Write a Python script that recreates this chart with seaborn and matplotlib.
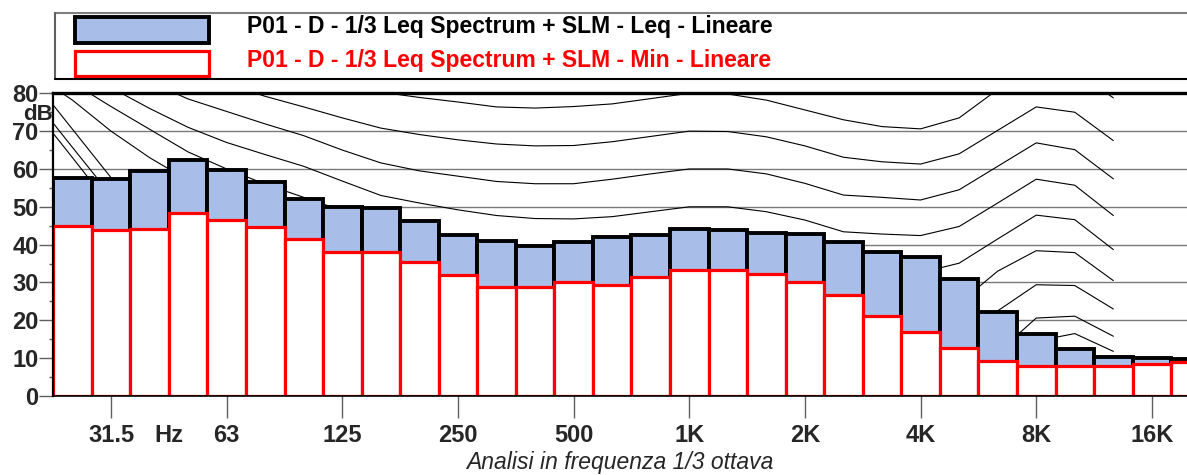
import numpy as np
import pandas as pd
import matplotlib
matplotlib.use("Agg")
import matplotlib.pyplot as plt
from matplotlib.patches import Rectangle
from matplotlib.lines import Line2D
import seaborn as sns

# ---------------- data ----------------
bands = ["25", "31.5", "40", "50", "63", "80", "100", "125", "160", "200",
         "250", "315", "400", "500", "630", "800", "1K", "1.25K", "1.6K", "2K",
         "2.5K", "3.15K", "4K", "5K", "6.3K", "8K", "10K", "12.5K", "16K", "20K"]
leq = [57.5, 57.3, 59.5, 62.4, 59.7, 56.6, 52.0, 49.9, 49.7, 46.2,
       42.5, 41.0, 39.7, 40.8, 41.9, 42.6, 44.2, 44.0, 43.2, 42.7,
       40.6, 38.0, 36.8, 30.8, 22.1, 16.4, 12.4, 10.4, 10.1, 9.8]
lmin = [44.8, 44.0, 44.2, 48.3, 46.4, 44.7, 41.6, 38.1, 38.0, 35.3,
        32.0, 28.9, 28.7, 30.0, 29.4, 31.4, 33.3, 33.2, 32.2, 30.2,
        26.7, 21.2, 16.8, 12.6, 9.2, 7.9, 7.8, 7.8, 8.4, 8.9]

tick_bands = ["31.5", "63", "125", "250", "500", "1K", "2K", "4K", "8K", "16K"]
y_ticks = [0, 10, 20, 30, 40, 50, 60, 70, 80]

# equal loudness contours (20 Hz .. 12.5 kHz)
contour_bands = ["20"] + bands[:28]
phon_80 = [115, 110, 105, 100, 96, 92, 88, 85, 82.5, 80.3, 78.9, 77.7, 76.4, 76.1, 76.5,
           77.2, 78.6, 80, 79.8, 78.2, 75.6, 73.0, 71.2, 70.6, 73.5, 81, 88, 86, 78.8]
phon_70 = [103, 98, 94, 90, 86, 82.5, 79.2, 76.4, 73.5, 70.8, 69.1, 67.7, 66.6, 66.1, 66.2,
           67.2, 68.6, 70, 69.9, 68.5, 66.1, 63.1, 61.9, 61.3, 64.0, 70.2, 76.4, 75.0, 67.5]
phon_60 = [96, 91, 87, 83, 78.5, 75.2, 71.9, 68.8, 65.0, 61.6, 59.5, 58.1, 56.7, 56.1, 56.1,
           57.3, 58.7, 60, 60, 58.7, 56.2, 53.1, 52.5, 51.8, 54.5, 60.7, 66.9, 65.1, 57.4]
phon_50 = [94, 88, 81.5, 76, 71, 67, 63.8, 60.7, 56.8, 53.0, 51.0, 49.2, 47.7, 46.9, 46.8,
           47.4, 48.7, 50, 50, 48.7, 46.5, 43.4, 42.8, 42.4, 44.8, 51, 57.3, 55.7, 47.7]
phon_40 = [89, 82.8, 76.5, 70.5, 64.5, 60, 56, 52.5, 49, 45.5, 43, 41, 39.5, 38.3, 38,
           38.5, 39.2, 40, 40, 38.7, 36.5, 33.5, 33, 32.6, 35.1, 41.5, 47.8, 46.6, 38.7]
phon_30 = [85, 78.2, 70, 63, 57, 52.5, 48.5, 45, 41.5, 38, 35.5, 33, 31, 29.8, 29,
           29, 29.5, 30, 30, 28.8, 26.5, 23.5, 23, 23, 24.5, 33, 38.4, 37.9, 30.5]
phon_20 = [83.3, 70.5, 57.7, 50, 44, 40, 36.5, 33.5, 30.5, 27.5, 25.5, 23.5, 21.5, 20.5, 20,
           20, 20, 20, 20, 19, 17, 14, 13.5, 13.5, 16, 22.5, 29.4, 29.2, 23.0]
phon_10 = [78.5, 65.7, 53, 45, 38, 33, 28.5, 25, 22, 19, 16.5, 14.5, 12.5, 11.5, 10.5,
           10, 10, 10, 10, 9, 7, 4.5, 4, 4.5, 7, 11.5, 20.6, 21.1, 15.8]
phon_0 = [75.8, 63, 50, 41, 33, 27, 22, 18, 14.5, 11.5, 9, 7, 5, 4, 3.5,
          3, 3, 3.5, 3.5, 2, -1, -3.5, -4.5, -4, -0.5, 6, 14.5, 16.5, 11.8]

contours = {80: phon_80, 70: phon_70, 60: phon_60, 50: phon_50, 40: phon_40,
            30: phon_30, 20: phon_20, 10: phon_10, 0: phon_0}

# ---------------- style ----------------
sns.set_theme(style="white")
plt.rcParams['font.family'] = ['Liberation Sans', 'DejaVu Sans']

W, H = 1187, 475
fig = plt.figure(figsize=(W / 100, H / 100), dpi=100)
x0, ytop, ybot = 53.2, 93.3, 396.0
ax = fig.add_axes([x0 / W, 1 - ybot / H, 1 - x0 / W, (ybot - ytop) / H])

# contours (long form)
rows = []
for phon, vals in contours.items():
    for b, v in zip(contour_bands, vals):
        pos = bands.index(b) if b in bands else -1
        rows.append({"phon": phon, "pos": pos, "level": v})
cdf = pd.DataFrame(rows)
sns.lineplot(data=cdf, x="pos", y="level", units="phon", estimator=None, sort=False,
             color="black", linewidth=0.8, legend=False, ax=ax, zorder=1)

df = pd.DataFrame({"band": bands, "leq": leq, "min": lmin})
sns.barplot(data=df, x="band", y="leq", order=bands, color="#a9bde9", saturation=1,
            edgecolor="black", linewidth=2.8, width=1.0, ax=ax, zorder=2)
sns.barplot(data=df, x="band", y="min", order=bands, color="white", saturation=1,
            edgecolor="#ff0000", linewidth=2.3, width=1.0, ax=ax, zorder=3)

ax.set_xlim(-0.5, (W - x0) / 38.55 - 0.5)
ax.set_ylim(0, 80)

# grid
ax.yaxis.grid(True, color="#7a7a7a", linewidth=1.0)
ax.xaxis.grid(False)
ax.set_axisbelow(True)

# spines
ax.spines["right"].set_visible(False)
ax.spines["top"].set_visible(True)
ax.spines["top"].set_color("black")
ax.spines["top"].set_linewidth(2.4)
ax.spines["left"].set_visible(True)
ax.spines["left"].set_color("black")
ax.spines["left"].set_linewidth(1.6)
ax.spines["bottom"].set_visible(True)
ax.spines["bottom"].set_color("black")
ax.spines["bottom"].set_linewidth(1.2)
for s in ax.spines.values():
    s.set_zorder(5)

FS = 17
# y ticks
ax.set_yticks(y_ticks)
ax.set_yticklabels([str(t) for t in y_ticks], fontsize=FS, fontweight="bold")
ax.set_yticks([t + 5 for t in y_ticks[:-1]], minor=True)
ax.tick_params(axis="y", which="major", direction="out", length=10, width=1,
               color="#606060", pad=0.5, left=True)
ax.tick_params(axis="y", which="minor", direction="out", length=3, width=1,
               color="#606060", left=True)
ax.text(-0.5, 74.4, "dB", transform=ax.transData, fontsize=16, fontweight="bold",
        ha="right", va="center")

# x ticks
xt = [bands.index(b) for b in tick_bands]
ax.set_xticks(xt)
ax.set_xticklabels(tick_bands, fontsize=FS, fontweight="bold")
ax.set_xticks([bands.index("40") + 0.5], minor=True)
ax.set_xticklabels(["Hz"], minor=True, fontsize=FS, fontweight="bold")
ax.tick_params(axis="x", which="major", direction="out", length=16, width=1,
               color="#606060", pad=4, bottom=True)
ax.tick_params(axis="x", which="minor", length=0, pad=4 + 16)
ax.set_xlabel("Analisi in frequenza 1/3 ottava", fontsize=16.5, fontstyle="italic",
              labelpad=3)
ax.set_ylabel("")

# legend box (figure coordinates)
def fx(px):
    return px / W

def fy(py):
    return 1 - py / H

fig.add_artist(Line2D([fx(55), fx(W)], [fy(13), fy(13)], color="#808080", lw=1.5))
fig.add_artist(Line2D([fx(55), fx(55)], [fy(13), fy(79)], color="#606060", lw=1.5))
fig.add_artist(Line2D([fx(55), fx(W)], [fy(79), fy(79)], color="black", lw=1.5))
fig.add_artist(Rectangle((fx(75), fy(42.5)), fx(209) - fx(75), fy(17.5) - fy(42.5),
                         facecolor="#a9bde9", edgecolor="black", lw=2.8))
fig.add_artist(Rectangle((fx(75), fy(75.5)), fx(209) - fx(75), fy(50.5) - fy(75.5),
                         facecolor="white", edgecolor="#ff0000", lw=2.3))
fig.text(fx(247), fy(26), "P01 - D - 1/3 Leq Spectrum + SLM - Leq - Lineare",
         fontsize=16.5, fontweight="bold", color="black", ha="left", va="center")
fig.text(fx(247), fy(60), "P01 - D - 1/3 Leq Spectrum + SLM - Min - Lineare",
         fontsize=16.5, fontweight="bold", color="#ff0000", ha="left", va="center")

fig.savefig("out.png", dpi=100)
